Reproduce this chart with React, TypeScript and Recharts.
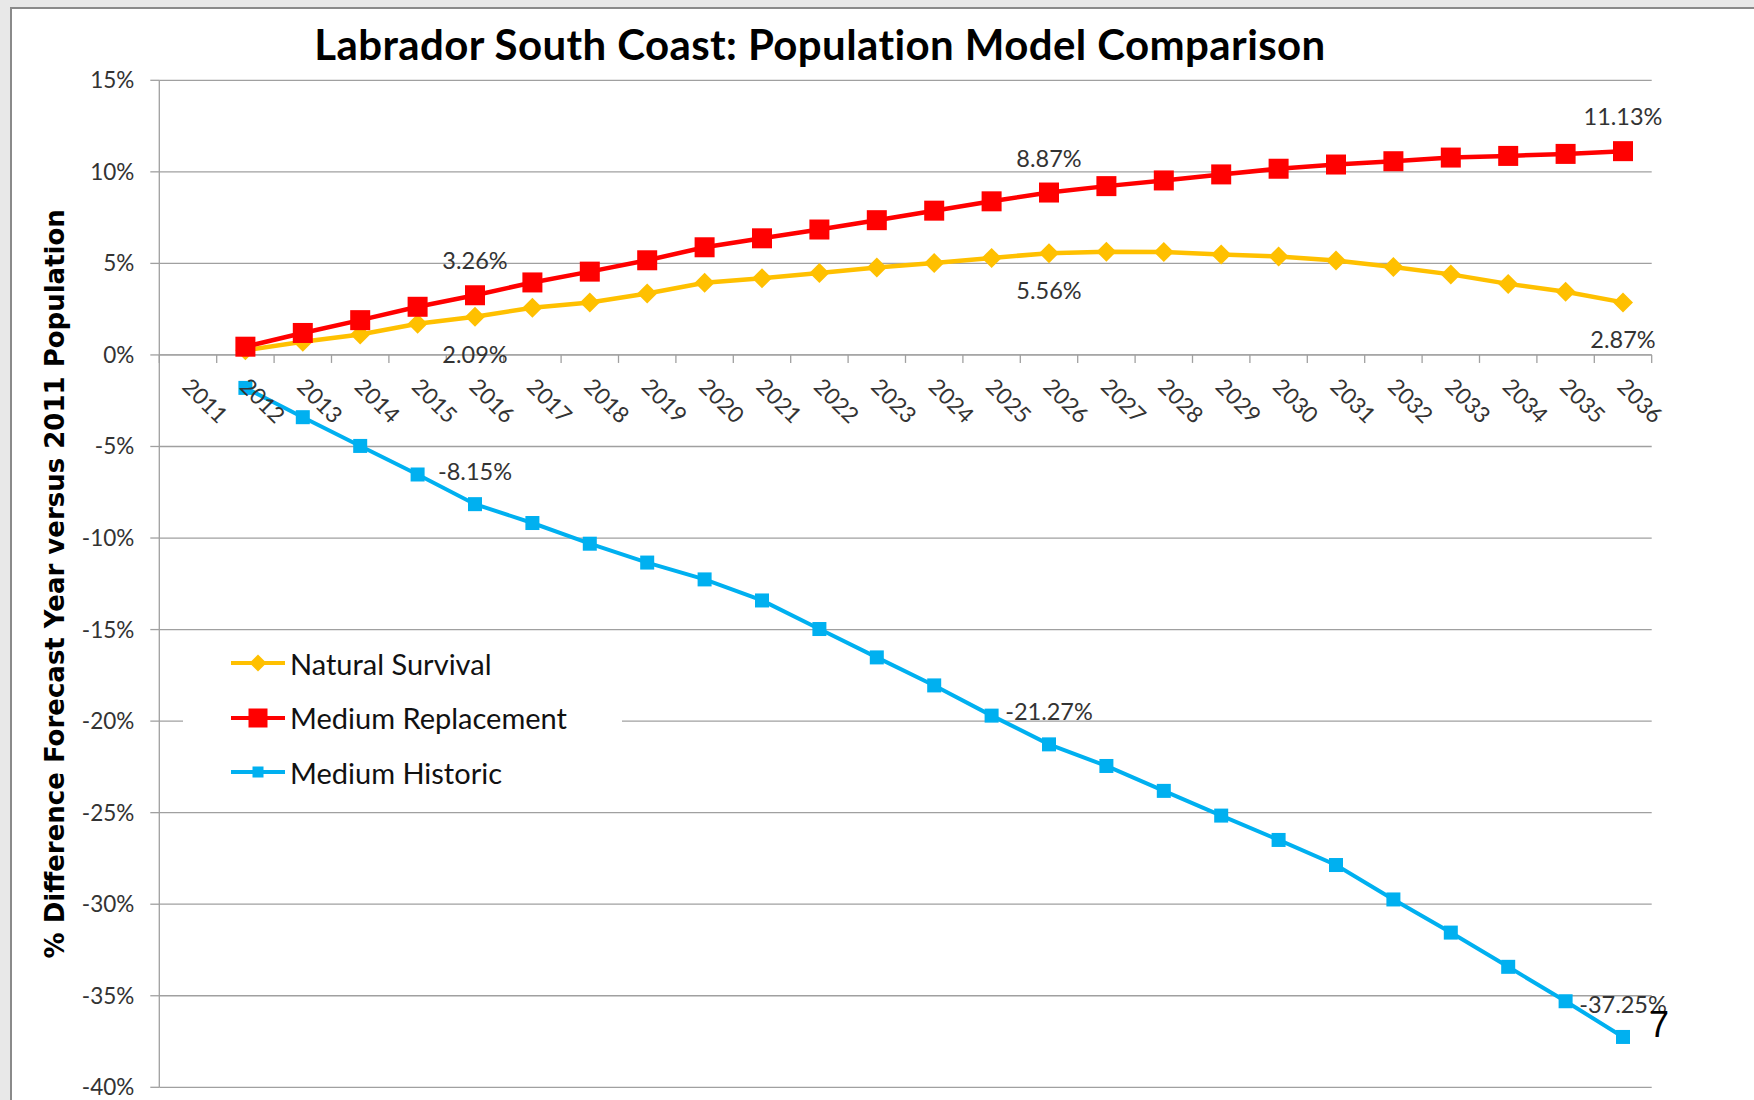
import React from "react";
import {
  ComposedChart,
  Line,
  XAxis,
  YAxis,
  CartesianGrid,
  ReferenceLine,
  Legend,
  LabelList,
} from "recharts";

const years = [
  "2011", "2012", "2013", "2014", "2015", "2016", "2017", "2018", "2019",
  "2020", "2021", "2022", "2023", "2024", "2025", "2026", "2027", "2028",
  "2029", "2030", "2031", "2032", "2033", "2034", "2035", "2036",
];

const naturalSurvival = [
  null, 0.25, 0.72, 1.12, 1.7, 2.09, 2.58, 2.86, 3.36, 3.94, 4.19, 4.47, 4.78,
  5.02, 5.3, 5.56, 5.64, 5.62, 5.49, 5.38, 5.16, 4.8, 4.4, 3.88, 3.45, 2.87,
];

const mediumReplacement = [
  null, 0.45, 1.2, 1.9, 2.63, 3.26, 3.96, 4.55, 5.17, 5.88, 6.37, 6.85, 7.36,
  7.88, 8.39, 8.87, 9.22, 9.53, 9.86, 10.17, 10.4, 10.58, 10.78, 10.87, 10.98,
  11.13,
];

const mediumHistoric = [
  null, -1.8, -3.4, -4.97, -6.53, -8.15, -9.18, -10.31, -11.34, -12.26, -13.41,
  -14.97, -16.52, -18.05, -19.7, -21.27, -22.45, -23.81, -25.16, -26.49,
  -27.86, -29.74, -31.55, -33.42, -35.3, -37.25,
];

const yTicks = [15, 10, 5, 0, -5, -10, -15, -20, -25, -30, -35, -40];
const labelYears = ["2016", "2026", "2036"];

const data = years.map((year, i) => ({
  year,
  natural: naturalSurvival[i],
  replacement: mediumReplacement[i],
  historic: mediumHistoric[i],
}));

// layout of the slide
const W = 1754;
const H = 1100;
const PLOT = { left: 159.3, top: 80.3, right: 1651.7, bottom: 1087.3 };
const Y_MIN = -40;
const Y_MAX = 15;
const Y_ZERO =
  PLOT.top + ((PLOT.bottom - PLOT.top) * Y_MAX) / (Y_MAX - Y_MIN);
const BAND = (PLOT.right - PLOT.left) / years.length;

const FONT = "Lato, 'Open Sans', sans-serif";
const GRID = "#a0a0a0";
const TEXT = "#333333";

const SERIES = [
  { key: "natural", name: "Natural Survival", color: "#FFC000", shape: "diamond", size: 20, width: 4.5, labelDy: 37, legendSize: 17 },
  { key: "replacement", name: "Medium Replacement", color: "#FF0000", shape: "square", size: 20, width: 4.5, labelDy: -35, legendSize: 19 },
  { key: "historic", name: "Medium Historic", color: "#00B0F0", shape: "square", size: 14, width: 4, labelDy: -33, legendSize: 11 },
];

function markerShape(shape: string, cx: number, cy: number, size: number, color: string, key?: any) {
  const r = size / 2;
  if (shape === "diamond") {
    return (
      <path
        key={key}
        d={`M${cx},${cy - r}L${cx + r},${cy}L${cx},${cy + r}L${cx - r},${cy}Z`}
        fill={color}
      />
    );
  }
  return <rect key={key} x={cx - r} y={cy - r} width={size} height={size} fill={color} />;
}

function YearTick(props: any) {
  const { x, payload, index } = props;
  const tx = x - 7;
  const ty = Y_ZERO + 33;
  return (
    <g>
      <line x1={x - BAND / 2} x2={x - BAND / 2} y1={Y_ZERO} y2={Y_ZERO + 8} stroke={GRID} strokeWidth={1.3} />
      {index === years.length - 1 && (
        <line x1={x + BAND / 2} x2={x + BAND / 2} y1={Y_ZERO} y2={Y_ZERO + 8} stroke={GRID} strokeWidth={1.3} />
      )}
      <text
        x={tx}
        y={ty}
        transform={`rotate(45 ${tx} ${ty})`}
        textAnchor="start"
        fontFamily={FONT}
        fontSize={22.5}
        fill={TEXT}
      >
        {payload.value}
      </text>
    </g>
  );
}

function valueLabel(p: any, dy: number) {
  const { x, y, index, value } = p;
  if (value == null || !labelYears.includes(years[index])) return null;
  return (
    <text
      x={x}
      y={y + dy}
      textAnchor="middle"
      dominantBaseline="central"
      fontFamily={FONT}
      fontSize={23.5}
      fill={TEXT}
    >
      {value.toFixed(2)}%
    </text>
  );
}

function LegendBox() {
  return (
    <div
      style={{
        background: "#fff",
        width: 439,
        height: 164,
        paddingLeft: 48,
        boxSizing: "border-box",
      }}
    >
      {SERIES.map((s) => (
        <div key={s.key} style={{ display: "flex", alignItems: "center", height: 54.5 }}>
          <svg width={54} height={24} style={{ display: "block" }}>
            <line x1={0} x2={54} y1={12} y2={12} stroke={s.color} strokeWidth={4} />
            {markerShape(s.shape, 27, 12, s.legendSize, s.color)}
          </svg>
          <span style={{ marginLeft: 5, fontFamily: FONT, fontSize: 29, color: "#111", lineHeight: 1 }}>
            {s.name}
          </span>
        </div>
      ))}
    </div>
  );
}

function YTitle(props: any) {
  const { viewBox } = props;
  const cx = viewBox.x + 55;
  const cy = viewBox.y + viewBox.height / 2;
  return (
    <text
      x={cx}
      y={cy}
      transform={`rotate(-90 ${cx} ${cy})`}
      textAnchor="middle"
      dominantBaseline="central"
      fontFamily="'DejaVu Sans', Verdana, sans-serif"
      fontWeight="bold"
      fontSize={26}
      fill="#000"
    >
      % Difference Forecast Year versus 2011 Population
    </text>
  );
}

export default function App() {
  return (
    <div style={{ position: "relative", width: W, height: H, background: "#e8e8e8", overflow: "hidden" }}>
      <style>{`body{margin:0}`}</style>
      <div
        style={{
          position: "absolute",
          left: 10,
          top: 7,
          width: W,
          height: H,
          background: "#fff",
          borderLeft: "2px solid #8a8a8a",
          borderTop: "2px solid #8a8a8a",
        }}
      />
      <div style={{ position: "absolute", left: 0, top: 0 }}>
        <ComposedChart
          width={W}
          height={H}
          data={data}
          margin={{ top: PLOT.top, right: W - PLOT.right, bottom: H - PLOT.bottom - 1, left: 0 }}
        >
          <CartesianGrid vertical={false} stroke={GRID} strokeWidth={1.3} />
          <XAxis
            dataKey="year"
            scale="band"
            interval={0}
            axisLine={false}
            tickLine={false}
            height={1}
            tick={(p: any) => <YearTick {...p} />}
          />
          <YAxis
            width={PLOT.left}
            domain={[Y_MIN, Y_MAX]}
            ticks={yTicks}
            allowDataOverflow
            tickFormatter={(v: number) => `${v}%`}
            axisLine={{ stroke: GRID, strokeWidth: 1.3 }}
            tickLine={{ stroke: GRID, strokeWidth: 1.3 }}
            tickSize={9}
            tickMargin={16}
            tick={{ fontFamily: FONT, fontSize: 22.5, fill: TEXT }}
            label={{ content: (p: any) => <YTitle {...p} /> }}
          />
          <ReferenceLine y={0} stroke={GRID} strokeWidth={1.3} />
          {SERIES.map((s) => (
            <Line
              key={s.key}
              dataKey={s.key}
              name={s.name}
              type="linear"
              stroke={s.color}
              strokeWidth={s.width}
              isAnimationActive={false}
              activeDot={false}
              dot={(p: any) =>
                p.cx == null || p.cy == null || p.value == null ? (
                  <g key={`d-${s.key}-${p.index}`} />
                ) : (
                  markerShape(s.shape, p.cx, p.cy, s.size, s.color, `d-${s.key}-${p.index}`)
                )
              }
            >
              <LabelList dataKey={s.key} content={(p: any) => valueLabel(p, s.labelDy)} />
            </Line>
          ))}
          <Legend
            layout="vertical"
            align="center"
            verticalAlign="middle"
            wrapperStyle={{ position: "absolute", left: 183, top: 636, width: 439, height: 164 }}
            content={() => <LegendBox />}
          />
        </ComposedChart>
      </div>
      <svg width={W} height={H} style={{ position: "absolute", left: 0, top: 0, pointerEvents: "none" }}>
        <text
          x={820}
          y={60}
          textAnchor="middle"
          fontFamily={FONT}
          fontWeight="bold"
          fontSize={42}
          letterSpacing={0.4}
          style={{ fontVariantLigatures: "none" }}
          fill="#000"
        >
          Labrador South Coast: Population Model Comparison
        </text>
        <text x={1649} y={1037} fontFamily="'Liberation Sans', Arial, sans-serif" fontSize={36} fill="#000">
          7
        </text>
      </svg>
    </div>
  );
}
